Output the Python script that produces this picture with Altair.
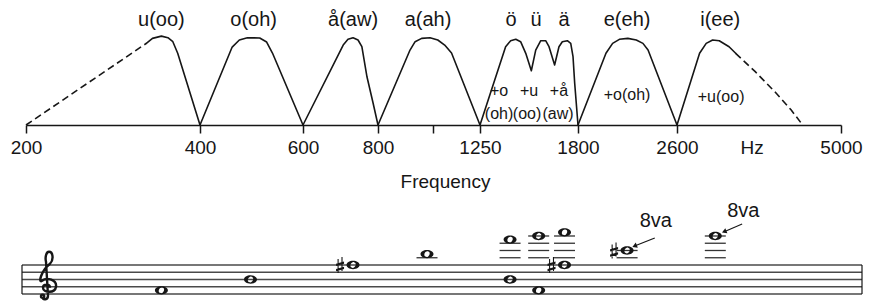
import altair as alt
import pandas as pd

# ---------------- frequency axis (hand-drawn spacing, roughly logarithmic) ----------------
tick_hz = [200, 400, 600, 800, 1000, 1250, 1800, 2600, 5000]
tick_px = [18, 192, 295, 370, 425, 472, 570, 669, 833]
unlabeled_tick = 1000
unit_label = "Hz"
unit_label_hz = 3500

# ---------------- formant envelopes: frequency (Hz) / relative level (%) ----------------
u_dash_hz = [200, 323]
u_dash_lvl = [0, 92.8]
u_hz = [323, 331, 343, 352, 359, 366, 400]
u_lvl = [92.8, 98.5, 101, 99.2, 94.7, 81.5, 0]
o_hz = [400, 454, 467, 482, 506, 520, 532, 600]
o_lvl = [0, 88.6, 96.6, 99.2, 98.9, 94.3, 81.8, 0]
aw_hz = [600, 700, 713, 727, 741, 752, 767, 785, 800]
aw_lvl = [0, 90.9, 97.4, 99.2, 96.6, 89.0, 54.5, 25.0, 0]
a_hz = [800, 911, 930, 955, 988, 1023, 1057, 1092, 1250]
a_lvl = [0, 85.2, 94.7, 98.5, 99.2, 96.6, 90.9, 81.8, 0]
front_hz = [1250, 1375, 1401, 1428, 1454, 1482, 1513, 1538, 1567, 1596, 1616, 1650,
            1677, 1698, 1730, 1752, 1767, 1778, 1800]
front_lvl = [0, 89.0, 95.8, 97.4, 94.7, 81.5, 61.7, 85.2, 95.8, 95.8, 89.0, 68.2,
             89.0, 94.7, 95.8, 92.8, 77.6, 47.4, 0]
e_hz = [1800, 1997, 2047, 2099, 2166, 2235, 2291, 2335, 2600]
e_lvl = [0, 81.5, 92.8, 97.4, 98.5, 96.6, 92.8, 85.2, 0]
i_hz = [2600, 2845, 2921, 2997, 3077, 3200, 3285]
i_lvl = [0, 81.5, 92.8, 96.6, 95.8, 89.0, 81.5]
i_dash_hz = [3285, 3552, 3841, 4100, 4291]
i_dash_lvl = [81.5, 60.6, 37.8, 17.0, 0]

# ---------------- text labels ----------------
vowel_labels = ["u(oo)", "o(oh)", "å(aw)", "a(ah)", "ö", "ü", "ä", "e(eh)", "i(ee)"]
vowel_label_hz = [343, 494, 727, 980, 1403, 1540, 1709, 2160, 3089]
mix_text = ["+o", "+u", "+å", "(oh)", "(oo)", "(aw)", "+o(oh)", "+u(oo)"]
mix_hz = [1342, 1500, 1677, 1342, 1489, 1671, 2160, 3100]
mix_lvl = [39, 39, 39, 12, 12, 12, 34, 32]

# ---------------- notation ----------------
staff_pitches = ["E4", "G4", "B4", "D5", "F5"]
clef_pitch = "G4"
note_vowel = ["u(oo)", "o(oh)", "å(aw)", "a(ah)", "ö", "ö", "ü", "ü", "ä", "ä", "e(eh)", "i(ee)"]
note_hz = [343, 488, 727, 976, 1398, 1398, 1555, 1555, 1712, 1712, 2160, 3029]
note_pitch = ["F4", "B4", "F#5", "B5", "F6", "B4", "G6", "F4", "A6", "F#5", "C#6", "G6"]
ottava_text = "8va"
ottava_hz = [2403, 3387]
ottava_step = [22.2, 25.0]
arrow_from_hz = [2394, 3371]
arrow_from_step = [17.45, 21.3]
arrow_to_hz = [2221, 3138]
arrow_to_step = [15.24, 19.18]

INK = "#161616"
FONT = "Liberation Sans"

# ---------------- tables ----------------
curves = [
    ("u_dash", True, u_dash_hz, u_dash_lvl), ("u", False, u_hz, u_lvl),
    ("o", False, o_hz, o_lvl), ("aw", False, aw_hz, aw_lvl), ("a", False, a_hz, a_lvl),
    ("front", False, front_hz, front_lvl), ("e", False, e_hz, e_lvl),
    ("i", False, i_hz, i_lvl), ("i_dash", True, i_dash_hz, i_dash_lvl),
]
rows = []
for name, dashed, hz, lvl in curves:
    for k, (h, v) in enumerate(zip(hz, lvl)):
        rows.append({"seg": name, "dashed": dashed, "hz": h, "lvl": v, "k": k})
curve_df = pd.DataFrame(rows)

letters = "CDEFGAB"


def staff_step(p):
    return letters.index(p[0]) + 7 * (int(p[-1]) - 4)


notes_df = pd.DataFrame({
    "vowel": note_vowel, "hz": note_hz, "pitch": note_pitch,
    "step": [staff_step(p) for p in note_pitch],
    "sharp": ["#" in p for p in note_pitch],
})
ledger_rows = []
for h, s in zip(notes_df["hz"], notes_df["step"]):
    for ls in range(12, s + 1, 2):
        ledger_rows.append({"hz": h, "step": ls})
ledger_df = pd.DataFrame(ledger_rows)
staff_df = pd.DataFrame({"pitch": staff_pitches, "step": [staff_step(p) for p in staff_pitches]})
clef_df = pd.DataFrame({"pitch": [clef_pitch], "step": [staff_step(clef_pitch)]})
ottava_df = pd.DataFrame({"hz": ottava_hz, "step": ottava_step, "t": [ottava_text] * 2})
arrow_df = pd.DataFrame({"hz": arrow_from_hz, "step": arrow_from_step,
                         "hz2": arrow_to_hz, "step2": arrow_to_step})

# ---------------- scales / axes ----------------
x_scale = alt.Scale(type="log", domain=tick_hz, range=tick_px, nice=False)
axis_values = sorted(tick_hz + [unit_label_hz])
x_axis = alt.Axis(
    values=axis_values,
    labelExpr=f"datum.value == {unlabeled_tick} ? '' : datum.value == {unit_label_hz} ? '{unit_label}' : '' + datum.value",
    title="Frequency", titleFont=FONT, titleFontSize=19, titleFontWeight="normal",
    titleColor=INK, titlePadding=15, titleX=437,
    labelFont=FONT, labelFontSize=19, labelColor=INK, labelPadding=5,
    labelOverlap=False, labelFlush=False, labelAngle=0,
    tickSize=8, tickColor=INK, tickWidth=1.5,
    tickOpacity={"condition": {"test": f"datum.value == {unit_label_hz}", "value": 0}, "value": 1},
    domainColor=INK, domainWidth=1.5, grid=False,
)
X = alt.X("hz:Q", scale=x_scale, axis=x_axis)
Y = alt.Y("lvl:Q", scale=alt.Scale(domain=[0, 133], nice=False, zero=False), axis=None)

W = 856
top_h = 117

solid = alt.Chart(curve_df[~curve_df["dashed"]]).mark_line(
    color=INK, strokeWidth=1.6, strokeJoin="round", strokeCap="round"
).encode(x=X, y=Y, detail="seg:N", order="k:Q")
dashed = alt.Chart(curve_df[curve_df["dashed"]]).mark_line(
    color=INK, strokeWidth=1.6, strokeDash=[7, 4]
).encode(x=X, y=Y, detail="seg:N", order="k:Q")
vowel_txt = alt.Chart(pd.DataFrame({"hz": vowel_label_hz, "t": vowel_labels})).mark_text(
    font=FONT, fontSize=20, color=INK, baseline="middle"
).encode(x=X, y=alt.value(12), text="t:N")
mix_txt = alt.Chart(pd.DataFrame({"hz": mix_hz, "lvl": mix_lvl, "t": mix_text})).mark_text(
    font=FONT, fontSize=16, color=INK, baseline="middle"
).encode(x=X, y=Y, text="t:N")

top = alt.layer(solid, dashed, vowel_txt, mix_txt).properties(width=W, height=top_h)

# ---------------- staff ----------------
staff_scale = alt.Scale(domain=[0.62, 28.48], nice=False, zero=False)
XS = alt.X("hz:Q", scale=x_scale, axis=None)
YS = alt.Y("step:Q", scale=staff_scale, axis=None)

note_path = ("M -6.5 0 A 6.5 4.2 0 1 1 6.5 0 A 6.5 4.2 0 1 1 -6.5 0 Z "
             "M 1.3 -2.5 A 2.0 2.9 30 1 0 -1.3 2.5 A 2.0 2.9 30 1 0 1.3 -2.5 Z")
clef_path = ("M 3 1 C 3 -3 -4 -3 -4 1 C -4 6 8 7 9 0 C 10 -7 0 -10 -5 -6 "
             "C -9 -3 -6 -16 3 -23 C 7 -27 6 -35 2 -35 C -1 -35 -2 -29 -1 -25 "
             "L 1 9 C 1 13 -4 14 -5 10 "
             "M -6 9.5 A 1.6 1.6 0 1 0 -2.8 9.5 A 1.6 1.6 0 1 0 -6 9.5 Z")
sharp_path = ("M -2.5 -6 L -1.4 -6 L -1.4 8 L -2.5 8 Z "
              "M 1.4 -8 L 2.5 -8 L 2.5 6 L 1.4 6 Z "
              "M -4 -1.2 L 4 -3.4 L 4 -1.2 L -4 1.0 Z "
              "M -4 4.0 L 4 1.8 L 4 4.0 L -4 6.2 Z")

staff_lines = alt.Chart(staff_df).mark_rule(color="#4a4a4a", strokeWidth=1.4).encode(
    y=YS, x=alt.value(14), x2=alt.value(W - 2))
bar_l = alt.Chart(pd.DataFrame({"step": [2], "step2": [10]})).mark_rule(color=INK, strokeWidth=1.2).encode(
    y=YS, y2="step2:Q", x=alt.value(14))
bar_r = alt.Chart(pd.DataFrame({"step": [2], "step2": [10]})).mark_rule(color=INK, strokeWidth=1.2).encode(
    y=YS, y2="step2:Q", x=alt.value(W - 2))
clef = alt.Chart(clef_df).mark_point(
    shape=clef_path, size=4, filled=False, strokeWidth=2.4, color=INK, opacity=1
).encode(y=YS, x=alt.value(39))
ledgers = alt.Chart(ledger_df).mark_tick(
    orient="horizontal", size=21, thickness=1.3, color="#333", opacity=1
).encode(x=XS, y=YS)
heads = alt.Chart(notes_df).mark_point(
    shape=note_path, size=4, filled=True, color=INK, opacity=1
).encode(x=XS, y=YS)
sharps = alt.Chart(notes_df[notes_df["sharp"]]).mark_point(
    shape=sharp_path, size=4, filled=True, color=INK, opacity=1, xOffset=-13
).encode(x=XS, y=YS)
ottava = alt.Chart(ottava_df).mark_text(font=FONT, fontSize=20, color=INK, baseline="middle").encode(
    x=XS, y=YS, text="t:N")
arrow_line = alt.Chart(arrow_df).mark_rule(color=INK, strokeWidth=1.2).encode(
    x=XS, y=YS, x2="hz2:Q", y2="step2:Q")
arrow_head = alt.Chart(arrow_df).mark_point(
    shape="triangle-left", size=30, filled=True, color=INK, opacity=1, angle=338
).encode(x=alt.X("hz2:Q", scale=x_scale, axis=None),
         y=alt.Y("step2:Q", scale=staff_scale, axis=None))

bottom = alt.layer(staff_lines, bar_l, bar_r, clef, ledgers, heads, sharps, ottava,
                   arrow_line, arrow_head).properties(width=W, height=101)

chart = alt.vconcat(top, bottom, spacing=7).resolve_scale(x="independent", y="independent").properties(
    padding=0
).configure(font=FONT).configure_view(stroke=None)

chart.save("out.html", embed_options={"renderer": "svg", "actions": False})
